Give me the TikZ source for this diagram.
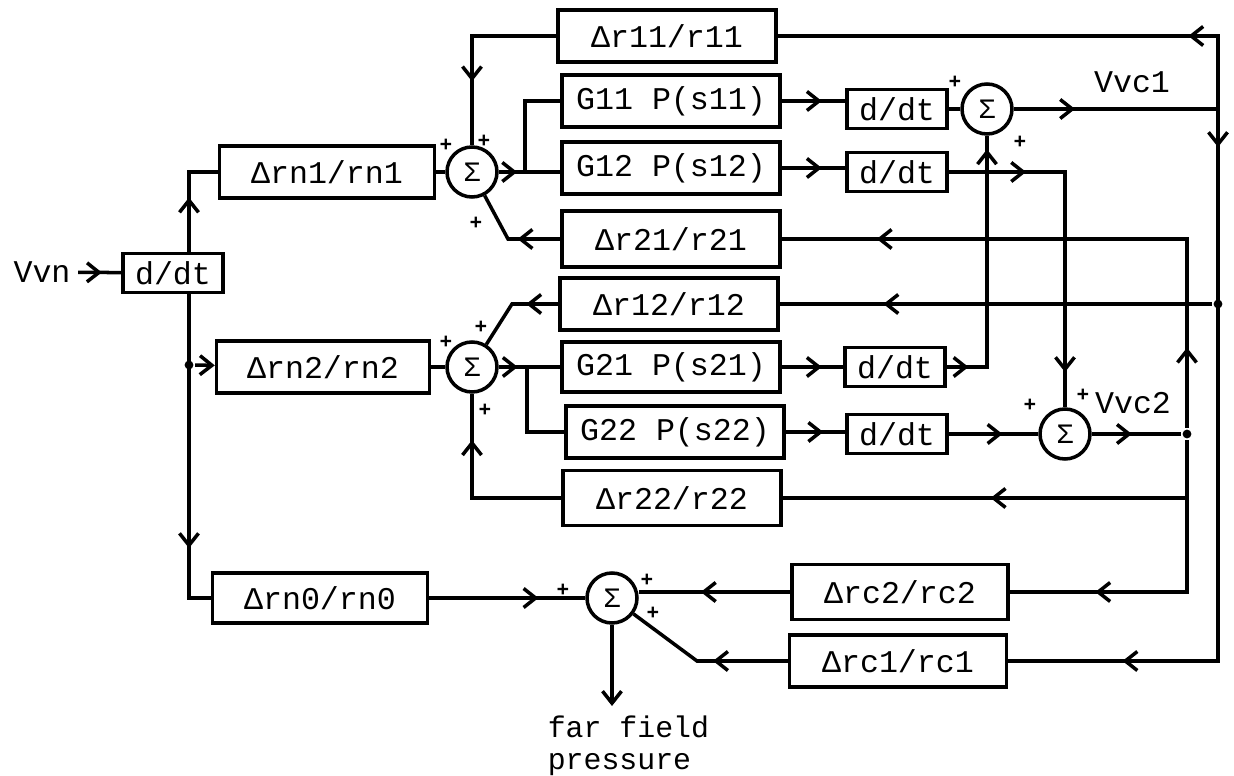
\documentclass[tikz,border=0pt]{standalone}
\usepackage{fontspec}
\setmonofont{Liberation Mono}
\usetikzlibrary{arrows.meta, decorations.markings}
\tikzset{barb/.tip={Straight Barb[length=0.24cm, width=0.38cm]}}

\begin{document}
\begin{tikzpicture}[x=0.02cm, y=-0.02cm, line width=2pt,
  font=\ttfamily\fontsize{18}{22}\selectfont,
  blk/.style={draw, minimum width=4.36cm, minimum height=1.05cm, inner sep=2pt},
  ddt/.style={draw, minimum width=2cm, minimum height=0.78cm, inner sep=2pt},
  sumnode/.style={draw, circle, minimum size=1cm, inner sep=0pt, font=\ttfamily\fontsize{16}{16}\selectfont},
  pl/.style={inner sep=0pt, font=\ttfamily\bfseries\fontsize{12}{12}\selectfont},
  jdot/.style={circle, fill, inner sep=0pt, minimum size=5pt},
  tip/.style={-barb},
  flow/.style={postaction={decorate}, decoration={markings, mark=at position #1 with {\arrow{barb}}}},
  flows/.style 2 args={postaction={decorate}, decoration={markings, mark=at position #1 with {\arrow{barb}}, mark=at position #2 with {\arrow{barb}}}}]
\useasboundingbox (0,0) rectangle (1234,776);

\node (vvn) at (42,272) {Vvn};
\node[ddt] (d0) at (173,273) {d/dt};
\coordinate (up) at (189,172);
\coordinate (low) at (189,598);
\node[jdot] (mid) at (189,365) {};

\node[blk, minimum width=4.3cm] (rn1) at (327,172) {Δrn1/rn1};
\node[blk, minimum width=4.26cm] (rn2) at (323,367) {Δrn2/rn2};
\node[blk, minimum width=4.3cm, minimum height=1cm] (rn0) at (320,598) {Δrn0/rn0};

\node[sumnode] (s1) at (472,172) {Σ};
\node[sumnode] (s2) at (987,109) {Σ};
\node[sumnode] (s3) at (1065,434) {Σ};
\node[sumnode] (s4) at (472,367) {Σ};
\node[sumnode] (s5) at (612,598) {Σ};

\node[blk] (r11) at (667,36) {Δr11/r11};
\node[blk] (g11) at (671,101) {G11 P(s11)};
\node[blk] (g12) at (671,168) {G12 P(s12)};
\node[blk, minimum height=1.12cm] (r21) at (671,239) {Δr21/r21};
\node[blk] (r12) at (669,304) {Δr12/r12};
\node[blk, minimum height=1cm] (g21) at (671,367) {G21 P(s21)};
\node[blk] (g22) at (675,432) {G22 P(s22)};
\node[blk, minimum height=1.1cm] (r22) at (672,498) {Δr22/r22};

\node[ddt] (dt1) at (897,109) {d/dt};
\node[ddt] (dt2) at (897,172) {d/dt};
\node[ddt] (dt3) at (895,367) {d/dt};
\node[ddt] (dt4) at (897,434) {d/dt};

\node[blk, minimum width=4.32cm, minimum height=1.1cm] (rc2) at (900,592) {Δrc2/rc2};
\node[blk, minimum width=4.34cm] (rc1) at (898,661) {Δrc1/rc1};

\coordinate (j1) at (525,172);
\coordinate (k1) at (508,239);
\coordinate (j4) at (527,367);
\coordinate (k2) at (512,304);
\coordinate (c1) at (1218,109);
\node[jdot] (c12) at (1218,304) {};
\node[jdot] (j3) at (1187,434) {};
\coordinate (k5) at (697,661);
\coordinate (out) at (612,706);

\node (vc1) at (1132,82) {Vvc1};
\node (vc2) at (1133,403) {Vvc2};
\node[anchor=north west, align=left, inner sep=0pt, font=\ttfamily\fontsize{17}{18.5}\selectfont] (ff) at (546,714) {far field\\pressure};

\node[pl] at (446,145) {+};
\node[pl] at (484,141) {+};
\node[pl] at (476,223) {+};
\node[pl] at (955,82) {+};
\node[pl] at (1020,142) {+};
\node[pl] at (446,342) {+};
\node[pl] at (481,327) {+};
\node[pl] at (485,410) {+};
\node[pl] at (1030,405) {+};
\node[pl] at (1083,395) {+};
\node[pl] at (563,590) {+};
\node[pl] at (647,580) {+};
\node[pl] at (653,613) {+};

\draw[flow=0.55] (vvn) -- (d0);
\draw[flow=0.5] (d0.north -| up) -- (up) -- (rn1);
\draw[flow=0.78] (d0.south -| low) -- (low) -- (rn0);
\draw[tip] (mid) -- (rn2);

\draw (rn1) -- (s1);
\draw (rn2) -- (s4);
\draw[flow=0.7] (rn0) -- (s5);

\draw[flow=0.7] (s1) -- (j1);
\draw (j1) -- (j1 -| g12.west);
\draw (j1) |- (g11);
\draw[flow=0.67] (r11) -| (s1);
\draw[flow=0.42] (r21) -- (k1) -- (s1);

\draw[flow=0.67] (s4) -- (j4);
\draw (j4) -- (g21);
\draw (j4) |- (g22);
\draw[flow=0.34] (r12) -- (k2) -- (s4);
\draw[flow=0.76] (r22) -| (s4);

\draw[flow=0.63] (g11.east) -- (g11.east -| dt1.west);
\draw (dt1) -- (s2);
\draw[flow=0.63] (g12.east) -- (g12.east -| dt2.west);
\draw[flows={0.22}{0.9}] (dt2) -| (s3);
\draw[flow=0.65] (g21) -- (dt3);
\draw[flows={0.08}{0.95}] (dt3) -| (s2);
\draw[flow=0.63] (g22.east) -- (g22.east -| dt4.west);
\draw[flow=0.6] (dt4) -- (s3);

\draw[flow=0.3] (s2) -- (c1);
\draw[flow=0.2] (c1) |- (r11);
\draw[flows={0.05}{0.85}] (c1) |- (rc1);
\draw[flow=0.76] (c12) -- (r12);

\draw[flow=0.45] (s3) -- (j3);
\draw[flows={0.135}{0.84}] (j3) |- (r21);
\draw[flow=0.55] (j3) |- (r22);
\draw[flow=0.74] (j3) |- (rc2);

\draw[flow=0.59] (rc2.west) -- (s5.east |- rc2.west);
\draw[flow=0.44] (rc1) -- (k5) -- (s5);
\draw[tip] (s5) -- (out);
\end{tikzpicture}
\end{document}
